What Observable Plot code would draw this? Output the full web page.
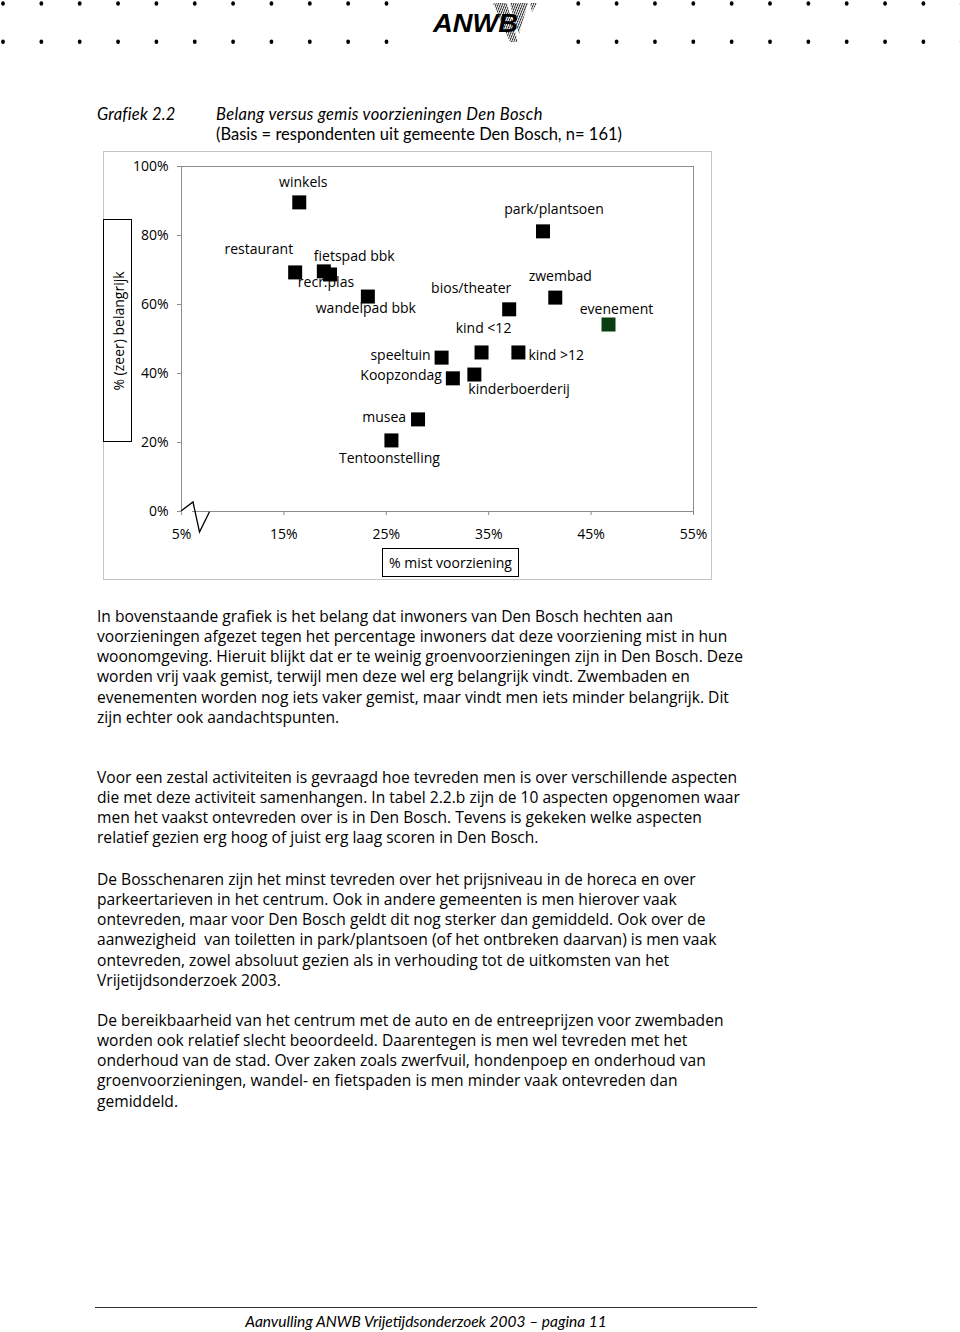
<!DOCTYPE html>
<html><head><meta charset="utf-8">
<script src="https://cdn.jsdelivr.net/npm/d3@7"></script>
<script src="https://cdn.jsdelivr.net/npm/@observablehq/plot@0.6"></script>
<style>
html,body{margin:0;padding:0;background:#fff;}
body{width:960px;height:1332px;position:relative;overflow:hidden;font-family:Lato,"Open Sans",sans-serif;color:#000;}
.abs{position:absolute;white-space:nowrap;}
.para{position:absolute;left:97px;font-family:"Open Sans",sans-serif;font-size:15.6px;line-height:20.15px;white-space:nowrap;}
.ttl{font-size:16.5px;line-height:19.5px;}
.os{font-family:"Open Sans",sans-serif;}
</style></head><body>
<svg id="hdr" class="abs" style="left:0;top:0" width="960" height="50"></svg>

<div class="abs ttl" style="left:97px;top:105px;font-style:italic;letter-spacing:0.2px">Grafiek 2.2</div>
<div class="abs ttl" style="left:216px;top:105px"><i style="letter-spacing:0.35px">Belang versus gemis voorzieningen Den Bosch</i><br>(Basis = respondenten uit gemeente Den Bosch, n= 161)</div>

<div class="abs" style="left:103px;top:151px;width:609px;height:429px;box-sizing:border-box;border:1px solid #c4c4c4"></div>
<div id="chart" class="abs" style="left:103px;top:151px"></div>
<div class="abs" style="left:103px;top:219px;width:29px;height:223px;box-sizing:border-box;border:1px solid #000;background:#fff">
  <div class="abs os" style="left:14px;top:111px;transform:translate(-50%,-50%) rotate(-90deg);font-size:14px">% (zeer) belangrijk</div>
</div>
<div class="abs os" style="left:382px;top:548px;width:137px;height:29px;box-sizing:border-box;border:1px solid #000;background:#fff;font-size:14px;line-height:27px;text-align:center">% mist voorziening</div>

<div class="para" style="top:606px">In bovenstaande grafiek is het belang dat inwoners van Den Bosch hechten aan<br>voorzieningen afgezet tegen het percentage inwoners dat deze voorziening mist in hun<br>woonomgeving. Hieruit blijkt dat er te weinig groenvoorzieningen zijn in Den Bosch. Deze<br>worden vrij vaak gemist, terwijl men deze wel erg belangrijk vindt. Zwembaden en<br>evenementen worden nog iets vaker gemist, maar vindt men iets minder belangrijk. Dit<br>zijn echter ook aandachtspunten.</div>
<div class="para" style="top:767px">Voor een zestal activiteiten is gevraagd hoe tevreden men is over verschillende aspecten<br>die met deze activiteit samenhangen. In tabel 2.2.b zijn de 10 aspecten opgenomen waar<br>men het vaakst ontevreden over is in Den Bosch. Tevens is gekeken welke aspecten<br>relatief gezien erg hoog of juist erg laag scoren in Den Bosch.</div>
<div class="para" style="top:869px">De Bosschenaren zijn het minst tevreden over het prijsniveau in de horeca en over<br>parkeertarieven in het centrum. Ook in andere gemeenten is men hierover vaak<br>ontevreden, maar voor Den Bosch geldt dit nog sterker dan gemiddeld. Ook over de<br>aanwezigheid&nbsp; van toiletten in park/plantsoen (of het ontbreken daarvan) is men vaak<br>ontevreden, zowel absoluut gezien als in verhouding tot de uitkomsten van het<br>Vrijetijdsonderzoek 2003.</div>
<div class="para" style="top:1010px">De bereikbaarheid van het centrum met de auto en de entreeprijzen voor zwembaden<br>worden ook relatief slecht beoordeeld. Daarentegen is men wel tevreden met het<br>onderhoud van de stad. Over zaken zoals zwerfvuil, hondenpoep en onderhoud van<br>groenvoorzieningen, wandel- en fietspaden is men minder vaak ontevreden dan<br>gemiddeld.</div>

<div class="abs" style="left:95px;top:1307px;width:662px;height:0;border-top:1px solid #333"></div>
<div class="abs" style="left:0;width:852px;top:1312px;text-align:center;font-style:italic;font-size:15.5px;line-height:18px">Aanvulling ANWB Vrijetijdsonderzoek 2003 – pagina 11</div>

<script>
// ---- data ----
const names = ["winkels","restaurant","fietspad bbk","recr.plas","wandelpad bbk","park/plantsoen","zwembad","bios/theater","evenement","kind <12","kind >12","speeltuin","Koopzondag","kinderboerderij","musea","Tentoonstelling"];
const missing   = [16.5, 16.1, 18.9, 19.5, 23.2, 40.3, 41.5, 37.0, 46.7, 34.3, 37.9, 30.4, 31.5, 33.6, 28.1, 25.5];
const important = [89.6, 69.3, 69.6, 68.7, 62.3, 81.2, 62.0, 58.6, 54.2, 46.1, 46.1, 44.6, 38.6, 39.7, 26.7, 20.6];
const highlighted = ["evenement"];
const xTicks = [5, 15, 25, 35, 45, 55];
const yTicks = [0, 20, 40, 60, 80, 100];

// label placement (pixel offsets from the marker)
const labelLayout = [
  [4,-20,"middle"], [-2,-23,"end"], [-10,-15,"start"], [-4,8,"middle"], [-2,12,"middle"],
  [11,-22,"middle"], [5,-21,"middle"], [-38,-21,"middle"], [8,-15,"middle"], [2,-24,"middle"],
  [10,3,"start"], [-11,-2,"end"], [-11,-3,"end"], [-6,15,"start"], [-12,-2,"end"], [-2,18,"middle"]
];

// ---- header ----
const hdr = d3.select("#hdr");
const defs = hdr.append("defs");
const pat = defs.append("pattern").attr("id","hatch").attr("width",2.2).attr("height",6)
  .attr("patternUnits","userSpaceOnUse").attr("patternTransform","skewX(-22)");
pat.append("rect").attr("width",1).attr("height",6).attr("fill","#222");
for (let k = 0; k <= 25; k++) {
  if (k >= 11 && k <= 14) continue;
  const cx = 3 + 38.35 * k;
  for (const cy of [3.5, 41.7]) hdr.append("ellipse").attr("cx",cx).attr("cy",cy).attr("rx",1.9).attr("ry",2.2).attr("fill","#000");
}
hdr.append("polygon").attr("points","493,3 507,3 518,42 510,42").attr("fill","url(#hatch)");
hdr.append("polygon").attr("points","510,3 528,3 519,34 515,24").attr("fill","url(#hatch)");
hdr.append("polygon").attr("points","530,3 537,3 532,12").attr("fill","url(#hatch)");
hdr.append("text").attr("x",433).attr("y",32).attr("font-family","'Liberation Sans',Arial,sans-serif")
  .attr("font-weight","bold").attr("font-style","italic").attr("font-size",25)
  .attr("textLength",85).attr("lengthAdjust","spacingAndGlyphs").text("ANWB");

// ---- chart ----
const data = names.map((n, i) => ({name: n, x: missing[i], y: important[i], dx: labelLayout[i][0], dy: labelLayout[i][1], anchor: labelLayout[i][2]}));

function zigzag(index, scales) {
  const x0 = scales.x(5), y0 = scales.y(0);
  const g = d3.create("svg:g");
  g.append("line").attr("x1", x0 + 0.6).attr("x2", x0 + 11).attr("y1", y0).attr("y2", y0).attr("stroke", "#fff").attr("stroke-width", 3);
  g.append("path").attr("d", `M${x0},${y0} L${x0+12},${y0-9} L${x0+18.5},${y0+21} L${x0+28.5},${y0+0.7}`)
    .attr("fill","none").attr("stroke","#000").attr("stroke-width",1.3);
  return g.node();
}

const chart = Plot.plot({
  width: 608, height: 428,
  marginLeft: 78, marginRight: 18, marginTop: 15, marginBottom: 68,
  style: {fontFamily: "'Open Sans', sans-serif", fontSize: "14px", background: "transparent", overflow: "visible", color: "#000"},
  x: {domain: [5, 55]},
  y: {domain: [0, 100]},
  marks: [
    Plot.frame({stroke: "#8c8c8c"}),
    Plot.axisX({ticks: xTicks, tickFormat: d => d + "%", tickSize: 4, tickPadding: 14, stroke: "#8c8c8c", fill: "#000", fontSize: 14, label: null}),
    Plot.axisY({ticks: yTicks, tickFormat: d => d + "%", tickSize: 4, tickPadding: 9, stroke: "#8c8c8c", fill: "#000", fontSize: 14, label: null}),
    zigzag,
    Plot.dot(data, {x: "x", y: "y", symbol: "square", r: 7.9, fill: d => highlighted.includes(d.name) ? "#0b3d12" : "#000", stroke: null}),
    ...data.map(d => Plot.text([d], {x: "x", y: "y", text: "name", dx: d.dx, dy: d.dy, textAnchor: d.anchor, fontSize: 14, fill: "#000"}))
  ]
});
document.getElementById("chart").appendChild(chart);
</script>
</body></html>
